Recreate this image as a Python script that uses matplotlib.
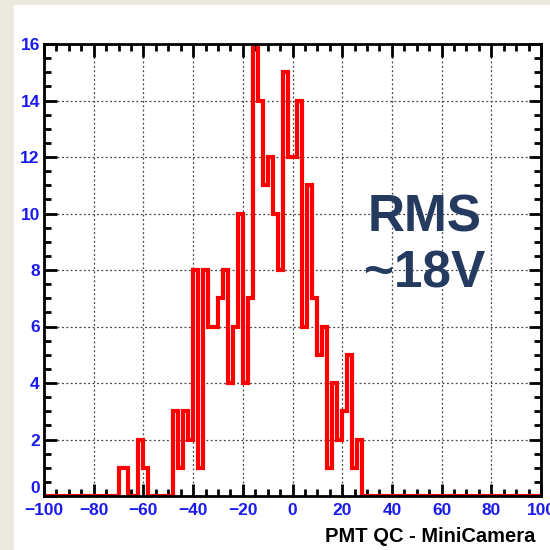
import numpy as np
import matplotlib.pyplot as plt

# cuentas por bin de 2 V, empezando en -70 V (fuera de ese rango todo es 0)
primer_borde = -70
cuentas = [1, 1, 0, 0, 2, 1, 0, 0, 0, 0, 0, 3, 1, 3, 2, 8, 1, 8, 6, 6,
           7, 8, 4, 6, 10, 4, 7, 16, 14, 11, 12, 10, 8, 15, 12, 12, 14, 6, 11, 7,
           5, 6, 1, 4, 2, 3, 5, 1, 2]
x_ticks = [-100, -80, -60, -40, -20, 0, 20, 40, 60, 80, 100]
y_ticks = [0, 2, 4, 6, 8, 10, 12, 14, 16]
titulo_x = "PMT QC - MiniCamera"
texto_rms = "RMS\n~18V"

# histograma completo de -100 a 100 con bins de 2
bordes = np.arange(-100, 101, 2)
valores = np.zeros(len(bordes) - 1)
inicio = int((primer_borde - bordes[0]) / 2)
valores[inicio:inicio + len(cuentas)] = cuentas

fig = plt.figure(figsize=(5.5, 5.5), dpi=100, facecolor="#ece9df")
fondo = fig.add_axes([14 / 550, 0, 1 - 14 / 550, 545 / 550])
fondo.set_facecolor("white")
fondo.set_xticks([])
fondo.set_yticks([])
for s in fondo.spines.values():
    s.set_visible(False)

ax = fig.add_axes([44 / 550, 54 / 550, 497 / 550, 452 / 550])
ax.set_xlim(-100, 100)
ax.set_ylim(0, 16)

ax.grid(True, color="#444444", linestyle=(0, (1.5, 2)), linewidth=0.9)
ax.set_axisbelow(True)

ax.stairs(valores, bordes, color="red", linewidth=3, zorder=3)

ax.set_xticks(x_ticks)
ax.set_yticks(y_ticks)
ax.set_xticks(np.arange(-100, 101, 5), minor=True)
ax.set_yticks(np.arange(0, 16.1, 0.5), minor=True)
ax.tick_params(which="both", direction="in", top=True, right=True, width=2, color="black")
ax.tick_params(which="major", length=9)
ax.tick_params(which="minor", length=5)
ax.tick_params(axis="both", which="major", labelsize=12.5, labelcolor="#1a1aee")
ax.tick_params(axis="x", which="major", pad=5)
ax.tick_params(axis="y", which="major", pad=3)
for lab in ax.get_xticklabels() + ax.get_yticklabels():
    lab.set_fontfamily("Liberation Sans")
    lab.set_fontweight("bold")
# el cero del eje y queda un poco más arriba para no pisar el -100
ax.get_yticklabels()[0].set_verticalalignment("bottom")

for s in ax.spines.values():
    s.set_linewidth(2)
    s.set_zorder(4)

fig.text(535 / 550, 1 - 537 / 550, titulo_x, ha="right", va="center",
         fontsize=14.5, fontweight="bold", family="Liberation Sans", color="black")

ax.text(0.765, 0.553, texto_rms, transform=ax.transAxes, ha="center", va="center",
        fontsize=37, fontweight="bold", family="Liberation Sans", color="#243a5e",
        linespacing=1.2, zorder=5)

fig.savefig("out.png", dpi=100, facecolor=fig.get_facecolor())
